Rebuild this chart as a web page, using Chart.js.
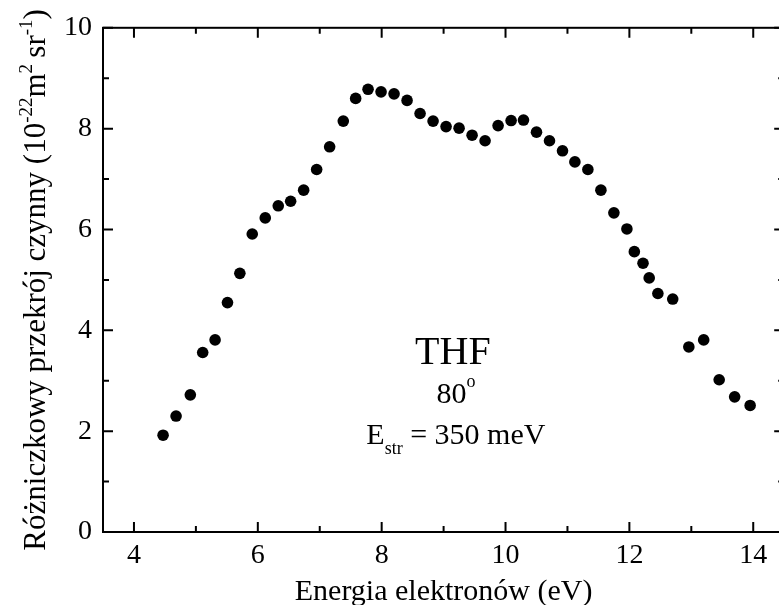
<!DOCTYPE html>
<html lang="pl">
<head>
<meta charset="UTF-8">
<title>THF 80°</title>
<script src="https://cdn.jsdelivr.net/npm/chart.js"></script>
<style>
  html, body { margin: 0; padding: 0; background: #fff; overflow: hidden; }
  #wrap { position: relative; width: 790px; height: 605px; }
</style>
</head>
<body>
<div id="wrap"><canvas id="chart"></canvas></div>
<script>
// energia elektronów (eV)
const energy = [4.47, 4.68, 4.91, 5.11, 5.31, 5.51, 5.71, 5.91, 6.12, 6.33, 6.53, 6.74,
  6.95, 7.16, 7.38, 7.58, 7.78, 7.99, 8.20, 8.41, 8.62, 8.83, 9.04, 9.25, 9.46, 9.67,
  9.88, 10.09, 10.29, 10.50, 10.71, 10.92, 11.12, 11.33, 11.54, 11.75, 11.96, 12.08,
  12.22, 12.32, 12.46, 12.70, 12.96, 13.20, 13.45, 13.70, 13.95];
// różniczkowy przekrój czynny (1e-22 m^2 sr^-1)
const crossSection = [1.92, 2.30, 2.72, 3.56, 3.81, 4.55, 5.13, 5.91, 6.23, 6.47, 6.56, 6.78,
  7.19, 7.64, 8.15, 8.60, 8.78, 8.73, 8.69, 8.56, 8.30, 8.15, 8.04, 8.01, 7.87, 7.76,
  8.06, 8.16, 8.17, 7.93, 7.76, 7.56, 7.34, 7.19, 6.78, 6.33, 6.01, 5.56,
  5.33, 5.04, 4.73, 4.62, 3.67, 3.81, 3.02, 2.68, 2.51];

const xTicks = [4, 6, 8, 10, 12, 14];
const xMinor = [5, 7, 9, 11, 13];
const yTicks = [0, 2, 4, 6, 8, 10];
const yMinor = [1, 3, 5, 7, 9];

const serif = '"Liberation Serif", "Times New Roman", serif';

// tekst z indeksami górnymi / dolnymi
function drawRuns(ctx, runs, x, y) {
  let total = 0;
  runs.forEach(r => { ctx.font = r.size + 'px ' + serif; total += ctx.measureText(r.t).width; });
  let cx = x - total / 2;
  runs.forEach(r => {
    ctx.font = r.size + 'px ' + serif;
    ctx.fillText(r.t, cx, y + (r.dy || 0));
    cx += ctx.measureText(r.t).width;
  });
}

const framePlugin = {
  id: 'frame',
  afterDraw(chart) {
    const { ctx, chartArea: a, scales: { x, y } } = chart;
    ctx.save();
    ctx.strokeStyle = '#000';
    ctx.lineWidth = 2;
    ctx.strokeRect(a.left, a.top, a.right - a.left, a.bottom - a.top);

    ctx.beginPath();
    const xt = (v, len) => {
      const p = x.getPixelForValue(v);
      ctx.moveTo(p, a.bottom); ctx.lineTo(p, a.bottom - len);
      ctx.moveTo(p, a.top); ctx.lineTo(p, a.top + len);
    };
    const yt = (v, len) => {
      const p = y.getPixelForValue(v);
      ctx.moveTo(a.left, p); ctx.lineTo(a.left + len, p);
      ctx.moveTo(a.right, p); ctx.lineTo(a.right - len, p);
    };
    xTicks.forEach(v => xt(v, 10));
    xMinor.forEach(v => xt(v, 6));
    yTicks.forEach(v => yt(v, 10));
    yMinor.forEach(v => yt(v, 6));
    ctx.stroke();

    ctx.fillStyle = '#000';
    ctx.textAlign = 'left';
    ctx.textBaseline = 'alphabetic';

    // tytuł osi X
    drawRuns(ctx, [{ t: 'Energia elektronów (eV)', size: 30 }], (a.left + a.right) / 2, 600);

    // tytuł osi Y
    ctx.save();
    ctx.translate(45, (a.top + a.bottom) / 2);
    ctx.rotate(-Math.PI / 2);
    drawRuns(ctx, [
      { t: 'Różniczkowy przekrój czynny (10', size: 31 },
      { t: '-22', size: 19, dy: -13 },
      { t: 'm', size: 31 },
      { t: '2', size: 19, dy: -13 },
      { t: '\u2009sr', size: 31 },
      { t: '-1', size: 19, dy: -13 },
      { t: ')', size: 31 }
    ], 0, 0);
    ctx.restore();

    // opis
    const cx = x.getPixelForValue(9.15);
    drawRuns(ctx, [{ t: 'THF', size: 40 }], cx, y.getPixelForValue(3.33));
    drawRuns(ctx, [{ t: '80', size: 30 }, { t: 'o', size: 18, dy: -16 }], cx + 3, y.getPixelForValue(2.55));
    drawRuns(ctx, [
      { t: 'E', size: 30 },
      { t: 'str', size: 18, dy: 10 },
      { t: ' = 350 meV', size: 30 }
    ], cx + 3, y.getPixelForValue(1.75));
    ctx.restore();
  }
};

new Chart(document.getElementById('chart'), {
  type: 'scatter',
  data: {
    datasets: [{
      data: energy.map((e, i) => ({ x: e, y: crossSection[i] })),
      backgroundColor: '#000',
      borderWidth: 0,
      pointRadius: 5.8,
      pointHoverRadius: 5.8
    }]
  },
  options: {
    responsive: true,
    maintainAspectRatio: false,
    animation: false,
    layout: { padding: { top: 24, right: 5, bottom: 0, left: 0 } },
    plugins: { legend: { display: false }, tooltip: { enabled: false } },
    scales: {
      x: {
        type: 'linear',
        min: 3.5,
        max: 14.5,
        afterBuildTicks: s => { s.ticks = xTicks.map(v => ({ value: v })); },
        afterFit: s => { s.height = 73; },
        grid: { display: false, drawTicks: false },
        border: { display: false },
        ticks: { padding: 7, color: '#000', font: { family: serif, size: 28 } }
      },
      y: {
        min: 0,
        max: 10,
        afterBuildTicks: s => { s.ticks = yTicks.map(v => ({ value: v })); },
        afterFit: s => { s.width = 103; },
        grid: { display: false, drawTicks: false },
        border: { display: false },
        ticks: { padding: 11, color: '#000', font: { family: serif, size: 28 } }
      }
    }
  },
  plugins: [framePlugin]
});
</script>
</body>
</html>
